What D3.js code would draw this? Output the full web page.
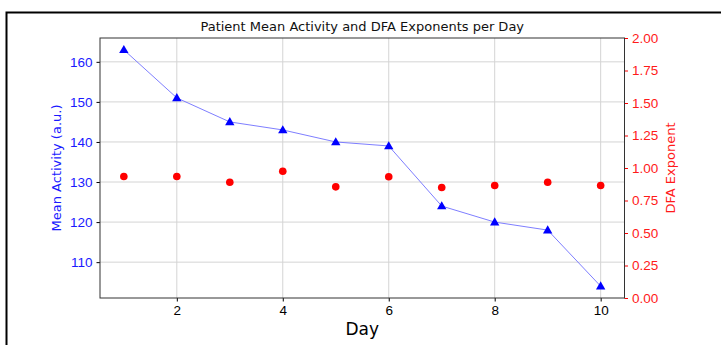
<!DOCTYPE html>
<html>
<head>
<meta charset="utf-8">
<script src="https://cdn.jsdelivr.net/npm/d3@7"></script>
<style>
  html, body { margin: 0; padding: 0; background: #fff; }
  svg { display: block; font-family: "DejaVu Sans", sans-serif; }
</style>
</head>
<body>
<svg id="chart" width="721" height="345"></svg>
<script>
// Daily patient measurements
const days = [1, 2, 3, 4, 5, 6, 7, 8, 9, 10];
const meanActivity = [163, 151, 145, 143, 140, 139, 124, 120, 118, 104];
const dfaExponent = [0.935, 0.935, 0.89, 0.975, 0.855, 0.933, 0.85, 0.865, 0.89, 0.865];

const xTicks = [2, 4, 6, 8, 10];
const leftTicks = [110, 120, 130, 140, 150, 160];
const rightTicks = [0, 0.25, 0.5, 0.75, 1.0, 1.25, 1.5, 1.75, 2.0];

const svg = d3.select("#chart");
const W = 721, H = 345;
const plot = { left: 100, right: 624.5, top: 38, bottom: 298 };

// Figure frame
svg.append("path")
  .attr("d", `M6.5,${H} L6.5,12.5 L${W},12.5`)
  .attr("fill", "none").attr("stroke", "#000").attr("stroke-width", 2);

const x = d3.scaleLinear().domain([0.55, 10.45]).range([plot.left, plot.right]);
const yL = d3.scaleLinear().domain([101.05, 165.95]).range([plot.bottom, plot.top]);
const yR = d3.scaleLinear().domain([0, 2]).range([plot.bottom, plot.top]);

// Grid
const grid = svg.append("g").attr("stroke", "#d4d4d4").attr("stroke-width", 1);
xTicks.forEach(t => grid.append("line")
  .attr("x1", x(t)).attr("x2", x(t)).attr("y1", plot.top).attr("y2", plot.bottom));
leftTicks.forEach(t => grid.append("line")
  .attr("x1", plot.left).attr("x2", plot.right).attr("y1", yL(t)).attr("y2", yL(t)));

// Mean activity line and triangles
svg.append("path")
  .datum(days.map((d, i) => [d, meanActivity[i]]))
  .attr("fill", "none").attr("stroke", "#6f6fff").attr("stroke-width", 0.9)
  .attr("d", d3.line().x(d => x(d[0])).y(d => yL(d[1])));

const tri = d3.symbol().type(d3.symbolTriangle).size(38);
svg.append("g").selectAll("path").data(days).join("path")
  .attr("d", tri)
  .attr("transform", (d, i) => `translate(${x(d)},${yL(meanActivity[i]) + 0.6})`)
  .attr("fill", "#0000ff");

// DFA exponent points
svg.append("g").selectAll("circle").data(days).join("circle")
  .attr("cx", d => x(d)).attr("cy", (d, i) => yR(dfaExponent[i]))
  .attr("r", 3.8).attr("fill", "#ff0000");

// Axes
const fs = "13.5px";
const xAxis = svg.append("g").attr("transform", `translate(0,${plot.bottom})`)
  .call(d3.axisBottom(x).tickValues(xTicks).tickSize(3.5).tickPadding(4).tickFormat(d3.format("d")));
xAxis.selectAll("text").attr("fill", "#000").style("font-size", fs);

const leftAxis = svg.append("g").attr("transform", `translate(${plot.left},0)`)
  .call(d3.axisLeft(yL).tickValues(leftTicks).tickSize(3.5).tickPadding(4).tickFormat(d3.format("d")));
leftAxis.selectAll("text").attr("fill", "#1a1aff").style("font-size", fs);

const rightAxis = svg.append("g").attr("transform", `translate(${plot.right},0)`)
  .call(d3.axisRight(yR).tickValues(rightTicks).tickSize(3.5).tickPadding(4).tickFormat(d3.format(".2f")));
rightAxis.selectAll("text").attr("fill", "#ff1a1a").style("font-size", fs);
rightAxis.selectAll(".tick line").attr("stroke", "#ff0000");

[xAxis, leftAxis, rightAxis].forEach(a => a.select(".domain").remove());

// Spines
svg.append("rect")
  .attr("x", plot.left).attr("y", plot.top)
  .attr("width", plot.right - plot.left).attr("height", plot.bottom - plot.top)
  .attr("fill", "none").attr("stroke", "#333").attr("stroke-width", 1);

// Titles and labels
svg.append("text").attr("x", (plot.left + plot.right) / 2).attr("y", 31)
  .attr("text-anchor", "middle").style("font-size", "13px").attr("fill", "#111")
  .text("Patient Mean Activity and DFA Exponents per Day");

svg.append("text").attr("x", (plot.left + plot.right) / 2).attr("y", 335)
  .attr("text-anchor", "middle").style("font-size", "17px").attr("fill", "#000")
  .text("Day");

svg.append("text")
  .attr("transform", `translate(61,${(plot.top + plot.bottom) / 2}) rotate(-90)`)
  .attr("text-anchor", "middle").style("font-size", "13px").attr("fill", "#1a1aff")
  .text("Mean Activity (a.u.)");

svg.append("text")
  .attr("transform", `translate(675,${(plot.top + plot.bottom) / 2}) rotate(-90)`)
  .attr("text-anchor", "middle").style("font-size", "13px").attr("fill", "#ff1a1a")
  .text("DFA Exponent");
</script>
</body>
</html>
